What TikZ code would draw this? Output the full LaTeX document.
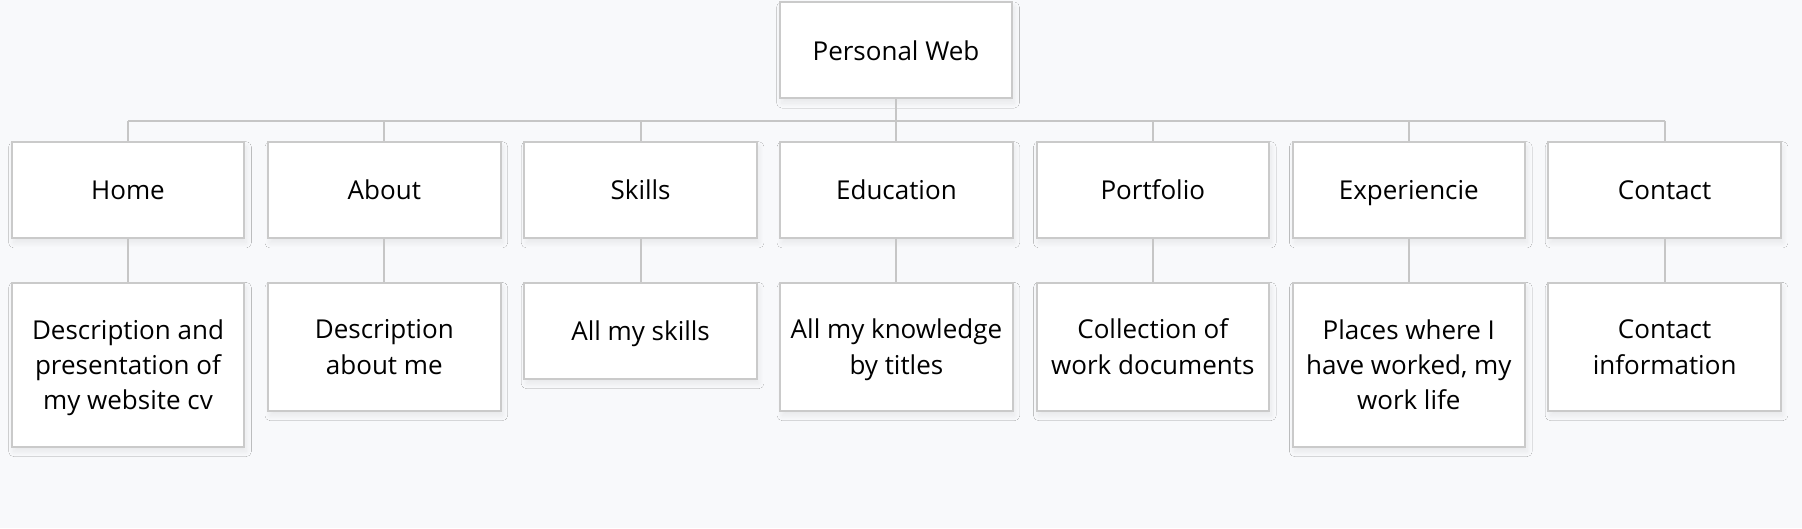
\documentclass[tikz,border=0pt]{standalone}
\usepackage{fontspec}
\setmainfont{Open Sans}
\usetikzlibrary{shadows.blur}
\definecolor{bg}{HTML}{F8F9FB}
\definecolor{linegray}{HTML}{C6C6C6}
\definecolor{boxgray}{HTML}{CACACA}
\begin{document}
\begin{tikzpicture}[x=1pt,y=-1pt,
  box/.style={draw=boxgray, line width=2pt, fill=white, minimum width=232.5pt,
    minimum height=96pt, align=center, inner sep=0pt,
    text height=25pt, text depth=5pt,
    font=\fontsize{26}{35.4}\selectfont,
    blur shadow={shadow xshift=2pt, shadow yshift=-5pt, shadow blur radius=5pt,
      shadow blur steps=30, shadow opacity=7}},
  twolines/.style={minimum height=128pt, text height=60.4pt},
  threelines/.style={minimum height=164pt, text height=95.8pt},
  conn/.style={draw=linegray, line width=2pt}]
\fill[bg] (0,0) rectangle (1802,528);
\useasboundingbox (0,0) rectangle (1802,528);
% root
\node[box] (root) at (896,50) {Personal Web};
% level 1
\node[box] (home) at (128,189.8) {Home};
\node[box] (about) at (384.3,189.8) {About};
\node[box] (skills) at (640.6,189.8) {Skills};
\node[box] (edu) at (896.4,189.8) {Education};
\node[box] (port) at (1152.8,189.8) {Portfolio};
\node[box] (exp) at (1408.8,189.8) {Experiencie};
\node[box] (cont) at (1664.6,189.8) {Contact};
% level 2
\node[box, anchor=north, threelines] (homed) at (128,281.5) {Description and\\presentation of\\my website cv};
\node[box, anchor=north, twolines] (aboutd) at (384.3,281.5) {Description\\about me};
\node[box, anchor=north] (skillsd) at (640.6,281.5) {All my skills};
\node[box, anchor=north, twolines] (edud) at (896.4,281.5) {All my knowledge\\by titles};
\node[box, anchor=north, twolines] (portd) at (1152.8,281.5) {Collection of\\work documents};
\node[box, anchor=north, threelines] (expd) at (1408.8,281.5) {Places where I\\have worked, my\\work life};
\node[box, anchor=north, twolines] (contd) at (1664.6,281.5) {Contact\\information};
% connectors
\coordinate (bus) at (896,120.8);
\draw[conn] (root.south) -- (root.south |- bus);
\draw[conn] (home.north |- bus) -- (cont.north |- bus);
\foreach \n in {home,about,skills,edu,port,exp,cont}{
  \draw[conn] (\n.north |- bus) -- (\n.north);
}
\draw[conn] (home.south) -- (homed.north);
\draw[conn] (about.south) -- (aboutd.north);
\draw[conn] (skills.south) -- (skillsd.north);
\draw[conn] (edu.south) -- (edud.north);
\draw[conn] (port.south) -- (portd.north);
\draw[conn] (exp.south) -- (expd.north);
\draw[conn] (cont.south) -- (contd.north);
\end{tikzpicture}
\end{document}
